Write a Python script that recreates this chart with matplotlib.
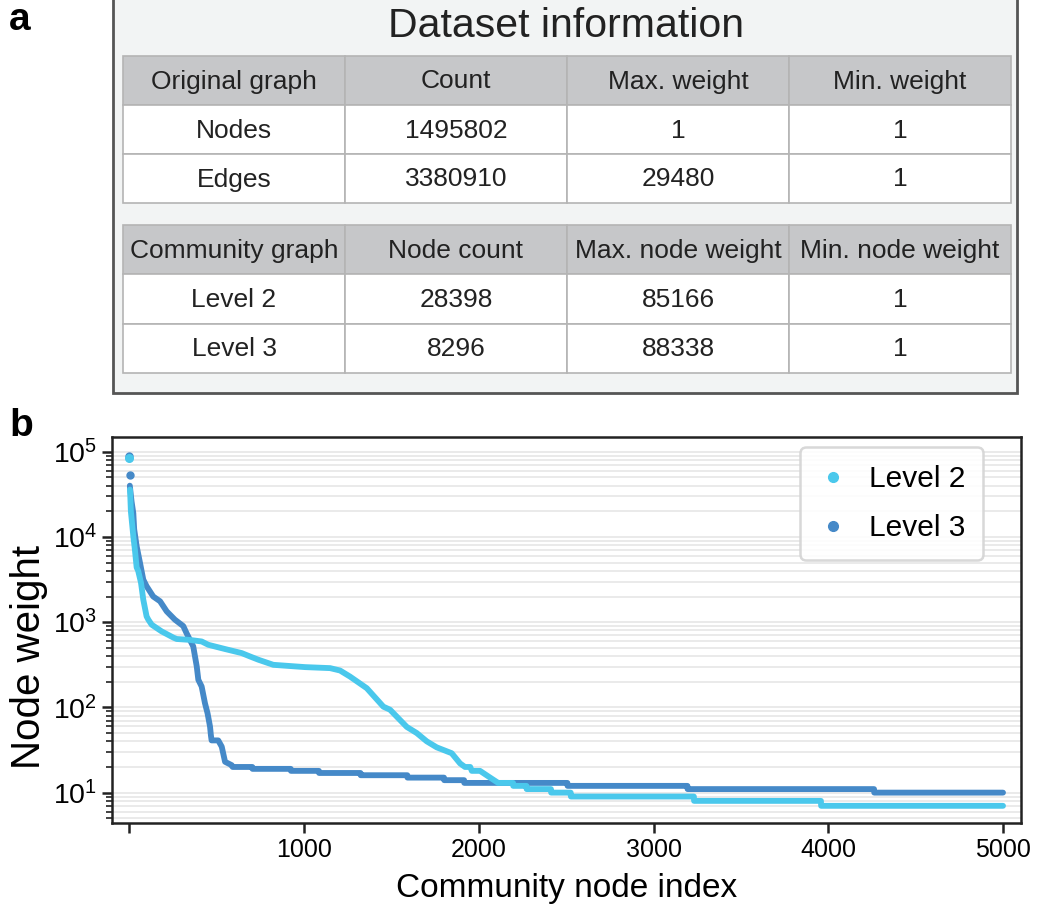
import matplotlib
matplotlib.use('Agg')
import numpy as np
from matplotlib import pyplot as plt
from matplotlib.patches import Rectangle
from matplotlib.lines import Line2D

plt.rcParams['font.family'] = ['Liberation Sans', 'DejaVu Sans']
plt.rcParams['mathtext.default'] = 'regular'

# ---- table data (panel a) ----
orig_header = ['Original graph', 'Count', 'Max. weight', 'Min. weight']
orig_rows = [['Nodes', '1495802', '1', '1'],
             ['Edges', '3380910', '29480', '1']]
comm_header = ['Community graph', 'Node count', 'Max. node weight', 'Min. node weight']
comm_rows = [['Level 2', '28398', '85166', '1'],
             ['Level 3', '8296', '88338', '1']]

# ---- sorted node weights (panel b) ----
l2_idx = [0, 3, 5, 8, 22, 31, 41, 50, 66, 79, 98, 108, 127, 184, 251, 270, 337,
          413, 451, 547, 642, 690, 737, 823, 1005, 1148, 1205, 1262, 1358, 1453,
          1491, 1587, 1644, 1701, 1758, 1844, 1892, 1920, 1950, 1959, 2006, 2064, 2110]
l2_val = [85166, 36000, 29000, 20000, 10200, 7100, 4400, 4000, 2900, 1840, 1170,
          1070, 935, 780, 660, 635, 622, 594, 543, 484, 434, 396, 363, 316, 297,
          289, 271, 230, 168, 102, 94, 59, 50, 40, 34, 29, 22, 20, 20, 18, 18, 15, 13]
l2_step_start = [2110, 2196, 2273, 2413, 2526, 3231, 3958]
l2_step_val = [13, 12, 11, 10, 9, 8, 7]

l3_idx = [0, 1, 2, 12, 22, 27, 41, 60, 79, 98, 136, 175, 213, 260, 308, 327, 365,
          385, 394, 413, 432, 447, 461, 466, 470, 508, 528, 547, 585]
l3_val = [88338, 54000, 40000, 26000, 19000, 12300, 7800, 5000, 3160, 2640, 2000,
          1760, 1340, 1070, 900, 740, 519, 302, 211, 176, 112, 85, 59.5, 47, 41, 41,
          34.6, 23, 21]
l3_step_start = [590, 704, 924, 1085, 1323, 1591, 1801, 1916, 2507, 3194, 4262]
l3_step_val = [20, 19, 18, 17, 16, 15, 14, 13, 12, 11, 10]
last_idx = 4999

c_l2 = '#4ac8ec'
c_l3 = '#4589c8'


def with_steps(idx, val, starts, vals):
    xs, ys = list(idx), list(val)
    ends = [s - 1 for s in starts[1:]] + [last_idx]
    for s, e, v in zip(starts, ends, vals):
        xs += [s, e]
        ys += [v, v]
    return xs, ys


fig = plt.figure(figsize=(10.38, 9.21), dpi=100)

# ---- panel a: table drawn in pixel coordinates ----
axt = fig.add_axes([0, 0, 1, 1])
axt.set_xlim(0, 1038)
axt.set_ylim(921, 0)
axt.axis('off')
axt.add_patch(Rectangle((113, -10), 904, 403, facecolor='#f2f4f4',
                        edgecolor='#555555', lw=2))
axt.text(566, 26, 'Dataset information', ha='center', va='center', fontsize=29.5,
         color='#222222')

col_x = [123, 345, 567, 789, 1011]


def draw_table(top, row_h, header, rows):
    all_rows = [header] + rows
    for r, row in enumerate(all_rows):
        y0 = top + r * row_h
        for c, txt in enumerate(row):
            fc = '#c6c7c9' if r == 0 else 'white'
            axt.add_patch(Rectangle((col_x[c], y0), col_x[c + 1] - col_x[c], row_h,
                                    facecolor=fc, edgecolor='#b4b4b4', lw=1.2))
            axt.text((col_x[c] + col_x[c + 1]) / 2, y0 + row_h / 2 + 1, txt,
                     ha='center', va='center', fontsize=19, color='#222222')


draw_table(56, 49, orig_header, orig_rows)
draw_table(225, 49.3, comm_header, comm_rows)

fig.text(0.009, 0.978, 'a', fontsize=28, fontweight='bold', va='center')
fig.text(0.009, 0.537, 'b', fontsize=28, fontweight='bold', va='center')

# ---- panel b ----
ax = fig.add_axes([0.1079, 0.1064, 0.8754, 0.4194])
x2, y2 = with_steps(l2_idx, l2_val, l2_step_start, l2_step_val)
x3, y3 = with_steps(l3_idx, l3_val, l3_step_start, l3_step_val)

ax.plot(x3[2:], y3[2:], color=c_l3, lw=4.2, solid_capstyle='round',
        solid_joinstyle='round', zorder=3)
ax.plot(x3[:2], y3[:2], 'o', color=c_l3, ms=5, ls='none', zorder=3)
ax.plot(x2[1:], y2[1:], color=c_l2, lw=4.2, solid_capstyle='round',
        solid_joinstyle='round', zorder=4)
ax.plot(x2[:1], y2[:1], 'o', color=c_l2, ms=5.5, ls='none', zorder=4)

ax.set_yscale('log')
ax.set_xlim(-100, 5100)
ax.set_ylim(4.4, 1.5e5)
ax.set_xticks([0, 1000, 2000, 3000, 4000, 5000])
ax.set_xticklabels(['', '1000', '2000', '3000', '4000', '5000'])
ax.grid(True, which='both', axis='y', color='#e6e6e6', lw=1.2, zorder=0)
ax.set_axisbelow(True)
for s in ax.spines.values():
    s.set_linewidth(1.8)
    s.set_color('#222222')
ax.tick_params(which='major', length=7, width=1.8, labelsize=18, color='#222222')
ax.tick_params(axis='y', which='major', labelsize=20.5)
ax.tick_params(which='minor', length=4, width=1.2, color='#222222')
ax.tick_params(axis='x', which='minor', bottom=False)
ax.set_xlabel('Community node index', fontsize=24, labelpad=8)
ax.set_ylabel('Node weight', fontsize=29)
ax.yaxis.set_label_coords(-0.07, 0.43)

handles = [Line2D([], [], marker='o', ls='none', color=c_l2, ms=7),
           Line2D([], [], marker='o', ls='none', color=c_l3, ms=7)]
leg = ax.legend(handles, ['Level 2', 'Level 3'], loc='upper right',
                bbox_to_anchor=(0.9585, 0.973), borderaxespad=0, fontsize=21.5,
                handlelength=1.0, handletextpad=0.7, labelspacing=0.7,
                borderpad=0.6, fancybox=True, framealpha=0.9, edgecolor='#d4d4d4')
leg.get_frame().set_linewidth(1.8)

fig.savefig('out.png', dpi=100)
